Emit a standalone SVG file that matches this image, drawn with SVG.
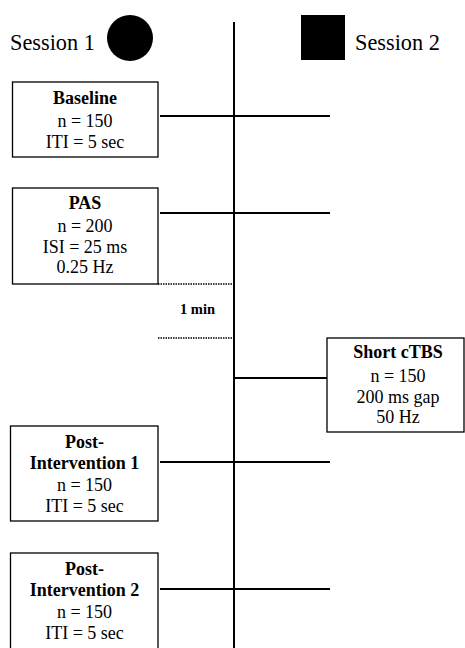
<svg xmlns="http://www.w3.org/2000/svg" width="465" height="648" viewBox="0 0 465 648">
<style>
text{font-family:"Liberation Serif","Times New Roman",serif;fill:#000}
.t{font-size:18px;text-anchor:middle}
.b{font-weight:bold}
.box{fill:#fff;stroke:#000;stroke-width:1.3}
.ln{stroke:#000;stroke-width:2;fill:none}
.dot{stroke:#000;stroke-width:1.5;stroke-dasharray:1.5 1;fill:none}
</style>
<rect width="465" height="648" fill="#fff"/>
<g id="legend">
<text x="10" y="50" font-size="22.3">Session 1</text>
<circle cx="130" cy="38" r="23" fill="#000"/>
<rect x="301" y="15" width="44" height="45" fill="#000"/>
<text x="355" y="50" font-size="22.3">Session 2</text>
</g>
<g id="connectors">
<line class="ln" x1="234" y1="22" x2="234" y2="648"/>
<line class="ln" x1="160" y1="116" x2="330" y2="116"/>
<line class="ln" x1="160" y1="213" x2="330" y2="213"/>
<line class="dot" x1="158" y1="284" x2="234" y2="284"/>
<line class="dot" x1="158" y1="338" x2="234" y2="338"/>
<line class="ln" x1="234" y1="378" x2="327" y2="378"/>
<line class="ln" x1="160" y1="462" x2="330" y2="462"/>
<line class="ln" x1="160" y1="589" x2="330" y2="589"/>
</g>
<g id="gap">
<text x="197.5" y="314" font-size="14.5" class="b" text-anchor="middle">1 min</text>
</g>
<g id="baseline">
<rect class="box" x="12.5" y="82" width="145.5" height="75"/>
<text class="t b" x="85" y="104">Baseline</text>
<text class="t" x="85" y="127">n = 150</text>
<text class="t" x="85" y="148">ITI = 5 sec</text>
</g>
<g id="pas">
<rect class="box" x="12.5" y="188" width="145.5" height="96"/>
<text class="t b" x="85" y="209">PAS</text>
<text class="t" x="85" y="232">n = 200</text>
<text class="t" x="85" y="253">ISI = 25 ms</text>
<text class="t" x="85" y="273">0.25 Hz</text>
</g>
<g id="ctbs">
<rect class="box" x="327" y="338" width="137" height="94"/>
<text class="t b" x="398" y="358">Short cTBS</text>
<text class="t" x="398" y="382">n = 150</text>
<text class="t" x="398" y="403">200 ms gap</text>
<text class="t" x="398" y="423">50 Hz</text>
</g>
<g id="post1">
<rect class="box" x="10.5" y="426" width="147.5" height="95"/>
<text class="t b" x="84.5" y="448">Post-</text>
<text class="t b" x="84.5" y="469">Intervention 1</text>
<text class="t" x="84.5" y="491">n = 150</text>
<text class="t" x="84.5" y="512">ITI = 5 sec</text>
</g>
<g id="post2">
<rect class="box" x="10.5" y="553" width="147.5" height="110"/>
<text class="t b" x="84.5" y="575">Post-</text>
<text class="t b" x="84.5" y="596">Intervention 2</text>
<text class="t" x="84.5" y="618">n = 150</text>
<text class="t" x="84.5" y="639">ITI = 5 sec</text>
</g>
</svg>
